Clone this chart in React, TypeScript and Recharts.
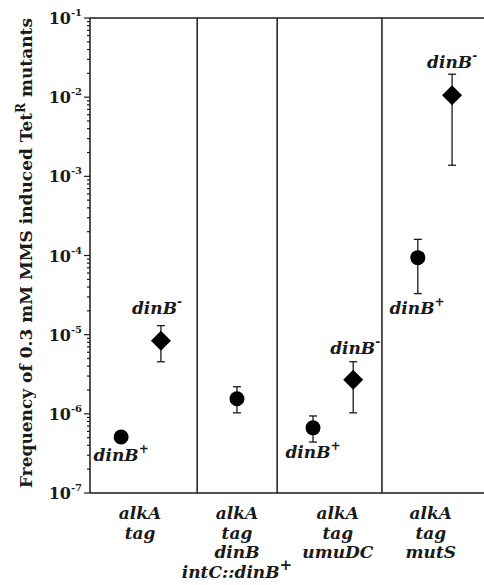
import React from 'react';
import { ScatterChart, Scatter, XAxis, YAxis, ErrorBar, ReferenceLine } from 'recharts';

// ---- data ----
const groupCenters = [12.7, 37.3, 62.9, 86.5];
const groupLabels = [
  ['alkA', 'tag'],
  ['alkA', 'tag', 'dinB', 'intC::dinB'],
  ['alkA', 'tag', 'umuDC'],
  ['alkA', 'tag', 'mutS'],
];
const separators = [27.2, 47.5, 74.1];

// dinB+ (circles)
const plusX = [7.9, 37.3, 56.6, 83.2];
const plusY = [5.1e-7, 1.55e-6, 6.65e-7, 9.4e-5];
const plusLow = [5.1e-7, 1.03e-6, 4.4e-7, 3.3e-5];
const plusHigh = [5.1e-7, 2.2e-6, 9.4e-7, 1.6e-4];

// dinB- (diamonds)
const minusX = [18.0, 66.8, 91.9];
const minusY = [8.4e-6, 2.7e-6, 1.06e-2];
const minusLow = [4.55e-6, 1.03e-6, 1.38e-3];
const minusHigh = [1.3e-5, 4.55e-6, 1.95e-2];

// point annotations
const annX = [7.9, 56.6, 83.0, 17.0, 67.3, 91.9];
const annY = [3.0e-7, 3.3e-7, 2.17e-5, 2.17e-5, 6.8e-6, 2.78e-2];
const annSign = ['+', '+', '+', '-', '-', '-'];

// y ticks
const decadeTicks = [1e-7, 1e-6, 1e-5, 1e-4, 1e-3, 1e-2, 1e-1];
const minorMultipliers = [2, 3, 4, 5, 6, 7, 8, 9];

const yTicks: number[] = [];
decadeTicks.forEach((d, i) => {
  yTicks.push(d);
  if (i < decadeTicks.length - 1) minorMultipliers.forEach((m) => yTicks.push(+(d * m).toPrecision(3)));
});

const plusData = plusX.map((x, i) => ({ x, y: plusY[i], err: [plusY[i] - plusLow[i], plusHigh[i] - plusY[i]] }));
const minusData = minusX.map((x, i) => ({ x, y: minusY[i], err: [minusY[i] - minusLow[i], minusHigh[i] - minusY[i]] }));
const annData = annX.map((x, i) => ({ x, y: annY[i], sign: annSign[i] }));

const INK = '#1a1a1a';
const SERIF = '"DejaVu Serif", "Liberation Serif", serif';

const YTick = (props: any) => {
  const { x, y, payload } = props;
  const v = payload.value as number;
  const exp = Math.round(Math.log10(v));
  const major = Math.abs(v / Math.pow(10, exp) - 1) < 1e-6;
  return (
    <g>
      <line x1={x} x2={x - (major ? 6 : 3)} y1={y} y2={y} stroke={INK} strokeWidth={1.2} />
      {major && (
        <text x={x - 8} y={y + 6} textAnchor="end" fontFamily={SERIF} fontWeight="bold" fontSize={16} fill={INK}>
          10
          <tspan fontSize={10} dy={-8}>{String(exp)}</tspan>
        </text>
      )}
    </g>
  );
};

const XTick = (props: any) => {
  const { x, y, payload } = props;
  const idx = groupCenters.indexOf(payload.value);
  const lines = idx >= 0 ? groupLabels[idx] : [];
  return (
    <g>
      {lines.map((l, i) => (
        <text key={i} x={x} y={y + 26 + i * 19.5} textAnchor="middle" fontFamily={SERIF} fontStyle="italic" fontWeight="bold" fontSize={17} fill={INK}>
          {l}
          {l === 'intC::dinB' && <tspan fontSize={15} dy={-8}>+</tspan>}
        </text>
      ))}
    </g>
  );
};

const Circle = (props: any) => <circle cx={props.cx} cy={props.cy} r={7.5} fill="#000" />;
const Diamond = (props: any) => {
  const { cx, cy } = props;
  const h = 10;
  return <polygon points={`${cx},${cy - h} ${cx + h},${cy} ${cx},${cy + h} ${cx - h},${cy}`} fill="#000" />;
};
const Ann = (props: any) => {
  const { cx, cy, payload } = props;
  return (
    <text x={cx} y={cy + 6} textAnchor="middle" fontFamily={SERIF} fontStyle="italic" fontWeight="bold" fontSize={17} fill={INK}>
      dinB
      <tspan fontSize={12} dy={-8}>{payload.sign}</tspan>
    </text>
  );
};

const YTitle = () => (
  <text x={32} y={253} transform="rotate(-90, 32, 253)" textAnchor="middle" fontFamily={SERIF} fontWeight="bold" fontSize={17} fill={INK}>
    Frequency of 0.3 mM MMS induced Tet
    <tspan fontSize={12} dy={-7}>R</tspan>
    <tspan dy={7}> mutants</tspan>
  </text>
);

export default function App() {
  return (
    <div style={{ position: 'absolute', left: 0, top: 0, background: '#fff' }}>
      <ScatterChart width={484} height={585} margin={{ top: 18, right: 0, bottom: 0, left: 0 }}>
        <XAxis
          type="number"
          dataKey="x"
          domain={[0, 100]}
          ticks={groupCenters}
          interval={0}
          tick={<XTick />}
          tickLine={false}
          tickSize={0}
          tickMargin={0}
          height={92}
          axisLine={{ stroke: INK, strokeWidth: 1.5 }}
        />
        <YAxis
          type="number"
          dataKey="y"
          scale="log"
          domain={[1e-7, 1e-1]}
          allowDataOverflow
          ticks={yTicks}
          interval={0}
          tick={<YTick />}
          tickLine={false}
          tickSize={0}
          tickMargin={0}
          width={90}
          axisLine={{ stroke: INK, strokeWidth: 1.5 }}
          label={() => <YTitle />}
        />
        <ReferenceLine y={1e-1} stroke={INK} strokeWidth={1.5} />
        {separators.map((s) => (
          <ReferenceLine key={s} x={s} stroke={INK} strokeWidth={1.5} />
        ))}
        <Scatter data={plusData} shape={<Circle />} isAnimationActive={false}>
          <ErrorBar dataKey="err" direction="y" width={4} stroke={INK} strokeWidth={1.3} isAnimationActive={false} />
        </Scatter>
        <Scatter data={minusData} shape={<Diamond />} isAnimationActive={false}>
          <ErrorBar dataKey="err" direction="y" width={4} stroke={INK} strokeWidth={1.3} isAnimationActive={false} />
        </Scatter>
        <Scatter data={annData} shape={<Ann />} isAnimationActive={false} />
      </ScatterChart>
    </div>
  );
}
